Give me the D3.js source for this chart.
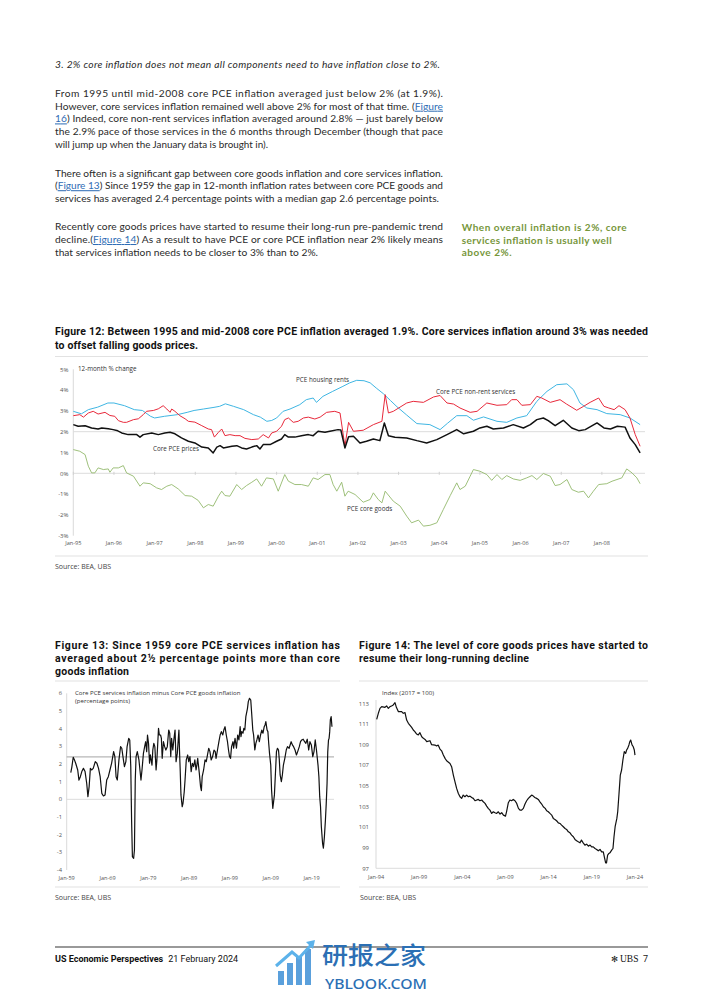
<!DOCTYPE html>
<html><head><meta charset="utf-8">
<script src="https://cdn.jsdelivr.net/npm/d3@7"></script>
<style>body{margin:0;background:#fff}svg{display:block}</style>
</head><body>
<svg id="page" width="702" height="992"></svg>
<script>
// ---------------- DATA ----------------
// Figure 12: 12-month % change, [decimal year, value]
const fig12Rents = [[1995.0,2.98],[1995.2,2.86],[1995.37,3.06],[1995.6,3.18],[1995.85,3.38],[1996.0,3.38],[1996.26,3.25],[1996.5,3.06],[1996.7,3.02],[1996.9,2.74],[1997.0,2.66],[1997.24,2.74],[1997.56,2.82],[1997.8,2.93],[1997.97,3.02],[1998.2,3.09],[1998.46,3.17],[1998.6,3.22],[1998.74,3.34],[1998.94,3.22],[1999.19,3.06],[1999.43,2.82],[1999.6,2.70],[1999.76,2.50],[1999.88,2.54],[2000.0,2.66],[2000.16,2.98],[2000.33,3.09],[2000.57,3.30],[2000.73,3.54],[2000.9,3.62],[2000.98,3.41],[2001.14,3.70],[2001.38,3.94],[2001.63,4.18],[2001.8,4.35],[2001.97,4.47],[2002.15,4.45],[2002.3,4.35],[2002.45,4.1],[2002.63,3.82],[2002.8,3.5],[2002.96,3.2],[2003.2,2.8],[2003.45,2.39],[2003.77,2.34],[2004.02,2.10],[2004.2,2.4],[2004.43,2.77],[2004.68,2.77],[2004.84,2.55],[2005.09,2.71],[2005.42,2.50],[2005.66,2.45],[2005.91,2.66],[2006.15,2.77],[2006.4,3.46],[2006.65,3.94],[2006.89,4.26],[2007.14,4.30],[2007.3,4.02],[2007.46,3.38],[2007.63,3.14],[2007.88,3.06],[2008.12,2.87],[2008.45,2.82],[2008.69,2.66],[2008.94,2.34]];
const fig12NonRent = [[1995.0,2.77],[1995.16,2.82],[1995.25,2.70],[1995.37,2.90],[1995.49,2.98],[1995.61,2.85],[1995.78,2.93],[1995.9,2.78],[1996.02,2.74],[1996.11,2.53],[1996.23,2.45],[1996.31,2.45],[1996.48,2.58],[1996.6,2.62],[1996.72,2.82],[1996.8,2.98],[1996.97,3.02],[1997.09,3.10],[1997.21,3.25],[1997.3,3.09],[1997.38,2.93],[1997.42,3.09],[1997.5,2.98],[1997.62,2.77],[1997.75,2.62],[1997.83,2.50],[1997.99,2.46],[1998.16,2.29],[1998.32,2.13],[1998.4,2.10],[1998.47,1.74],[1998.57,1.97],[1998.65,2.13],[1998.73,1.81],[1998.85,1.86],[1998.98,1.81],[1999.1,1.81],[1999.22,1.68],[1999.39,1.62],[1999.55,1.65],[1999.67,1.86],[1999.8,1.70],[1999.88,1.94],[2000.0,2.02],[2000.12,2.26],[2000.2,2.58],[2000.29,2.66],[2000.41,2.45],[2000.53,2.50],[2000.66,2.66],[2000.78,2.70],[2000.94,2.61],[2001.07,2.70],[2001.23,2.93],[2001.43,2.98],[2001.56,2.90],[2001.68,1.30],[2001.77,2.45],[2001.89,2.02],[2002.13,2.07],[2002.38,2.34],[2002.59,2.50],[2002.67,3.78],[2002.75,2.90],[2002.87,2.98],[2003.2,3.38],[2003.36,3.46],[2003.61,3.41],[2003.86,3.67],[2004.02,3.74],[2004.19,3.38],[2004.35,3.33],[2004.51,3.14],[2004.76,2.93],[2004.93,2.98],[2005.17,3.38],[2005.42,3.27],[2005.66,3.30],[2005.78,3.54],[2005.91,3.54],[2006.03,3.27],[2006.24,3.30],[2006.4,3.70],[2006.52,3.62],[2006.73,3.41],[2006.97,3.54],[2007.13,3.33],[2007.38,3.03],[2007.55,3.22],[2007.71,3.41],[2007.92,3.62],[2008.05,3.22],[2008.17,3.14],[2008.3,3.06],[2008.42,3.25],[2008.57,3.06],[2008.69,2.66],[2008.82,1.86],[2008.94,1.30]];
const fig12Core = [[1995.0,2.34],[1995.12,2.26],[1995.29,2.29],[1995.45,2.18],[1995.61,2.13],[1995.7,2.18],[1995.86,2.14],[1995.98,2.10],[1996.07,2.06],[1996.19,1.94],[1996.35,1.86],[1996.56,1.86],[1996.64,1.74],[1996.72,1.86],[1996.93,1.94],[1997.09,1.86],[1997.25,1.94],[1997.38,1.97],[1997.5,1.90],[1997.66,1.70],[1997.83,1.54],[1997.99,1.46],[1998.16,1.26],[1998.32,1.22],[1998.44,0.98],[1998.53,1.26],[1998.61,1.33],[1998.69,1.22],[1998.9,1.30],[1999.02,1.33],[1999.14,1.22],[1999.26,1.17],[1999.39,1.26],[1999.51,1.33],[1999.59,1.17],[1999.67,1.38],[1999.84,1.38],[2000.0,1.54],[2000.12,1.65],[2000.2,1.86],[2000.29,1.74],[2000.45,1.74],[2000.61,1.81],[2000.78,1.86],[2000.9,1.81],[2001.02,2.02],[2001.19,1.97],[2001.31,2.02],[2001.51,2.10],[2001.58,2.08],[2001.68,1.22],[2001.77,1.76],[2001.89,1.78],[2002.05,1.46],[2002.21,1.54],[2002.38,1.65],[2002.54,1.57],[2002.65,2.42],[2002.75,1.81],[2002.91,1.73],[2003.2,1.70],[2003.45,1.57],[2003.69,1.46],[2003.94,1.62],[2004.19,1.86],[2004.43,2.10],[2004.6,1.90],[2004.84,2.02],[2005.0,2.18],[2005.17,2.26],[2005.33,2.13],[2005.58,2.18],[2005.82,2.34],[2006.07,2.18],[2006.24,2.34],[2006.4,2.58],[2006.56,2.66],[2006.68,2.53],[2006.85,2.29],[2007.05,2.55],[2007.26,2.18],[2007.43,2.05],[2007.59,2.10],[2007.88,2.42],[2008.05,2.18],[2008.21,2.13],[2008.38,2.26],[2008.57,2.22],[2008.69,1.70],[2008.82,1.38],[2008.94,0.98]];
const fig12Goods = [[1995.0,1.14],[1995.16,1.06],[1995.29,0.90],[1995.37,0.34],[1995.45,0.02],[1995.53,0.02],[1995.61,0.26],[1995.74,0.18],[1995.86,0.21],[1995.9,0.05],[1995.98,0.26],[1996.11,0.26],[1996.23,0.37],[1996.31,0.02],[1996.48,-0.14],[1996.64,-0.62],[1996.72,-0.46],[1996.89,-0.50],[1997.05,-0.70],[1997.17,-0.78],[1997.3,-0.62],[1997.42,-0.54],[1997.58,-0.75],[1997.75,-1.07],[1997.91,-1.10],[1998.07,-1.30],[1998.2,-1.66],[1998.32,-1.50],[1998.44,-1.58],[1998.57,-1.10],[1998.65,-0.86],[1998.73,-1.07],[1998.85,-1.10],[1999.02,-0.54],[1999.14,-0.78],[1999.26,-0.59],[1999.39,-0.43],[1999.51,-0.27],[1999.63,-0.62],[1999.75,-0.22],[1999.92,-0.27],[2000.04,-0.86],[2000.2,-0.06],[2000.29,-0.38],[2000.45,-0.54],[2000.61,-0.54],[2000.78,-0.62],[2000.9,-0.22],[2001.02,-0.30],[2001.19,-0.06],[2001.31,-0.06],[2001.39,-0.54],[2001.48,-0.86],[2001.6,-0.43],[2001.68,-1.10],[2001.76,-0.86],[2001.93,-1.02],[2002.13,-1.39],[2002.3,-1.26],[2002.38,-0.94],[2002.5,-1.26],[2002.59,-1.42],[2002.67,-0.86],[2002.87,-1.34],[2003.04,-1.58],[2003.2,-2.06],[2003.32,-2.38],[2003.49,-2.25],[2003.61,-2.54],[2003.77,-2.50],[2003.94,-2.38],[2004.1,-1.74],[2004.27,-1.07],[2004.43,-0.46],[2004.51,-0.78],[2004.64,-0.62],[2004.76,-0.14],[2004.84,0.18],[2005.0,0.10],[2005.17,-0.06],[2005.29,-0.34],[2005.42,-0.06],[2005.54,-0.30],[2005.66,-0.11],[2005.82,-0.27],[2005.99,-0.34],[2006.15,-0.22],[2006.28,-0.11],[2006.4,-0.30],[2006.56,-0.01],[2006.73,-0.14],[2006.85,-0.59],[2006.97,-0.54],[2007.14,-0.30],[2007.26,-0.78],[2007.42,-0.91],[2007.55,-0.86],[2007.67,-1.18],[2007.79,-0.86],[2007.92,-0.54],[2008.12,-0.50],[2008.25,-0.38],[2008.37,-0.30],[2008.49,-0.22],[2008.61,0.21],[2008.74,0.02],[2008.86,-0.22],[2008.94,-0.50]];
const fig12YTicks = [5,4,3,2,1,0,-1,-2,-3];
const fig12XTicks = ["Jan-95","Jan-96","Jan-97","Jan-98","Jan-99","Jan-00","Jan-01","Jan-02","Jan-03","Jan-04","Jan-05","Jan-06","Jan-07","Jan-08"];

// Figure 13: services minus goods inflation (pp)
const fig13Gap = [[1960.0,1.51],[1960.25,1.81],[1960.6,2.38],[1960.85,2.26],[1961.2,2.04],[1961.7,1.66],[1962.0,1.09],[1962.35,1.28],[1962.7,1.57],[1963.1,1.75],[1963.5,1.57],[1963.9,0.91],[1964.2,0.15],[1964.5,0.72],[1964.8,1.75],[1965.1,1.66],[1965.5,1.75],[1966.0,2.13],[1966.4,2.04],[1966.8,1.75],[1967.2,1.28],[1967.6,0.34],[1968.0,0.19],[1968.4,0.25],[1968.8,1.09],[1969.2,1.28],[1969.6,1.66],[1970.0,2.04],[1970.5,2.70],[1970.8,2.42],[1971.1,1.28],[1971.4,1.09],[1971.8,2.23],[1972.2,2.98],[1972.5,2.89],[1972.9,2.23],[1973.15,1.85],[1973.5,2.13],[1973.8,2.98],[1974.2,3.45],[1974.45,3.36],[1974.7,1.85],[1974.9,-1.17],[1975.1,-3.25],[1975.4,-3.34],[1975.6,-2.87],[1975.8,1.09],[1976.0,2.42],[1976.3,2.70],[1976.7,2.23],[1976.95,1.66],[1977.2,1.09],[1977.45,1.66],[1977.8,2.60],[1978.1,2.98],[1978.35,3.26],[1978.6,2.70],[1978.8,3.64],[1979.05,3.17],[1979.3,2.04],[1979.5,2.51],[1979.9,1.94],[1980.1,2.79],[1980.35,3.17],[1980.6,2.98],[1980.9,1.66],[1981.1,2.23],[1981.5,4.02],[1981.7,3.64],[1982.0,3.64],[1982.2,3.45],[1982.4,2.32],[1982.7,3.26],[1983.0,2.98],[1983.3,2.79],[1983.65,2.98],[1984.0,3.92],[1984.25,3.74],[1984.5,2.42],[1984.7,3.45],[1985.0,2.79],[1985.3,3.45],[1985.55,3.92],[1985.8,2.13],[1986.1,2.60],[1986.5,3.92],[1986.65,2.70],[1986.8,1.75],[1987.0,0.25],[1987.3,-0.42],[1987.5,-0.23],[1987.8,0.43],[1988.0,1.09],[1988.3,2.23],[1988.65,2.51],[1988.9,2.13],[1989.2,2.42],[1989.5,1.57],[1989.8,2.04],[1990.1,1.85],[1990.4,2.23],[1990.7,1.66],[1990.9,1.94],[1991.1,2.32],[1991.5,1.47],[1991.8,0.72],[1992.0,0.49],[1992.2,1.28],[1992.55,1.66],[1992.9,2.23],[1993.2,2.13],[1993.5,2.51],[1993.8,2.89],[1994.1,2.70],[1994.4,2.23],[1994.75,2.42],[1995.1,2.79],[1995.4,2.70],[1995.6,2.32],[1995.95,2.79],[1996.3,3.26],[1996.6,3.64],[1996.9,3.83],[1997.25,3.64],[1997.5,3.92],[1997.8,4.11],[1998.1,3.64],[1998.4,3.26],[1998.65,2.79],[1998.9,2.42],[1999.15,2.32],[1999.4,2.98],[1999.75,3.26],[1999.9,2.89],[2000.25,3.45],[2000.6,2.89],[2000.9,3.64],[2001.2,3.36],[2001.5,4.11],[2001.7,3.55],[2001.9,3.83],[2002.2,3.74],[2002.4,4.02],[2002.65,3.92],[2002.9,4.68],[2003.3,5.15],[2003.5,5.53],[2003.8,5.72],[2004.1,5.62],[2004.3,4.96],[2004.6,3.92],[2004.8,3.64],[2005.1,2.79],[2005.35,3.17],[2005.6,3.36],[2005.9,3.64],[2006.2,3.26],[2006.5,3.64],[2006.8,3.92],[2007.1,3.74],[2007.4,4.11],[2007.6,4.21],[2007.8,4.40],[2008.1,3.92],[2008.3,3.83],[2008.5,3.17],[2008.7,2.60],[2009.0,1.94],[2009.2,0.53],[2009.5,-0.51],[2009.7,-0.13],[2009.9,0.25],[2010.15,1.47],[2010.4,2.70],[2010.65,2.89],[2010.9,2.79],[2011.1,2.23],[2011.3,1.38],[2011.6,1.00],[2011.85,1.38],[2012.1,1.94],[2012.45,2.32],[2012.8,2.79],[2013.1,2.98],[2013.5,2.89],[2014.0,3.26],[2014.3,3.08],[2014.6,2.98],[2014.95,2.79],[2015.3,2.51],[2015.6,2.70],[2016.0,2.98],[2016.3,3.26],[2016.6,3.36],[2016.95,3.40],[2017.3,3.26],[2017.6,3.17],[2017.95,3.40],[2018.3,2.79],[2018.6,3.26],[2018.95,3.08],[2019.3,2.42],[2019.6,2.70],[2019.9,3.36],[2020.2,2.79],[2020.45,2.23],[2020.6,1.89],[2020.8,1.28],[2021.0,0.15],[2021.2,-0.42],[2021.4,-1.55],[2021.7,-2.49],[2021.9,-2.77],[2022.15,-2.11],[2022.4,-1.17],[2022.6,-0.23],[2022.8,0.91],[2022.97,2.70],[2023.15,3.36],[2023.3,3.45],[2023.45,3.83],[2023.6,4.49],[2023.8,4.68],[2024.0,4.11]];
const fig13Average = 2.4;
const fig13YTicks = [6,5,4,3,2,1,0,-1,-2,-3,-4];
const fig13XTicks = ["Jan-59","Jan-69","Jan-79","Jan-89","Jan-99","Jan-09","Jan-19"];

// Figure 14: core goods price level, index 2017=100
const fig14Index = [[1994.08,111.45],[1994.27,112.03],[1994.46,112.51],[1994.66,112.68],[1995.04,112.61],[1995.24,112.74],[1995.43,112.51],[1995.62,112.68],[1995.8,112.74],[1996.0,112.84],[1996.2,113.06],[1996.36,112.61],[1996.6,112.19],[1996.97,112.19],[1997.16,112.03],[1997.36,112.1],[1997.55,111.38],[1997.75,111.06],[1998.13,110.67],[1998.32,110.41],[1998.5,110.25],[1998.71,110.02],[1998.9,109.93],[1999.09,110.15],[1999.3,109.76],[1999.49,109.6],[1999.68,109.5],[1999.88,109.28],[2000.25,109.37],[2000.44,108.99],[2000.83,108.95],[2001.02,108.86],[2001.2,108.95],[2001.41,108.56],[2001.6,108.39],[2001.8,107.98],[2002.0,107.66],[2002.18,107.43],[2002.57,107.17],[2002.76,106.85],[2002.96,106.04],[2003.15,105.39],[2003.34,104.75],[2003.54,104.26],[2003.73,103.94],[2003.92,103.78],[2004.1,104.1],[2004.3,103.94],[2004.5,104.1],[2004.7,103.94],[2004.89,104.0],[2005.08,103.87],[2005.27,103.78],[2005.47,103.55],[2005.85,103.68],[2006.04,103.55],[2006.24,103.62],[2006.43,103.45],[2006.63,103.29],[2006.82,103.03],[2007.0,102.81],[2007.2,102.64],[2007.4,102.32],[2007.59,102.48],[2007.78,102.39],[2007.98,102.32],[2008.17,102.48],[2008.37,102.26],[2008.56,102.39],[2008.76,102.16],[2009.0,102.06],[2009.12,102.48],[2009.33,103.36],[2009.51,103.62],[2009.7,103.55],[2009.9,103.68],[2010.1,103.55],[2010.3,103.29],[2010.5,102.81],[2010.68,102.64],[2010.87,102.64],[2011.07,102.81],[2011.26,103.23],[2011.45,103.55],[2011.65,103.78],[2011.84,103.94],[2012.03,104.1],[2012.22,104.0],[2012.4,103.87],[2012.61,103.78],[2012.8,103.68],[2012.99,103.45],[2013.19,103.23],[2013.38,102.97],[2013.6,102.81],[2013.77,102.58],[2013.96,102.48],[2014.15,102.32],[2014.35,102.16],[2014.54,101.84],[2014.73,101.74],[2014.92,101.61],[2015.12,101.41],[2015.31,101.35],[2015.5,101.19],[2015.7,101.03],[2015.9,100.86],[2016.08,100.77],[2016.28,100.54],[2016.47,100.44],[2016.66,100.22],[2016.86,100.06],[2017.05,99.8],[2017.24,99.67],[2017.43,99.57],[2017.63,99.47],[2017.8,99.73],[2018.0,99.47],[2018.2,99.25],[2018.4,99.34],[2018.6,99.15],[2018.8,99.25],[2018.98,99.08],[2019.17,99.08],[2019.37,98.92],[2019.56,98.83],[2019.75,98.7],[2019.95,98.83],[2020.14,98.6],[2020.33,98.6],[2020.45,98.11],[2020.6,97.53],[2020.7,97.53],[2020.83,98.28],[2020.98,98.44],[2021.1,98.5],[2021.3,98.76],[2021.45,98.92],[2021.57,100.06],[2021.7,101.03],[2021.9,101.84],[2022.0,102.48],[2022.15,104.26],[2022.3,106.04],[2022.45,106.53],[2022.6,107.5],[2022.76,108.31],[2022.92,108.15],[2023.03,108.47],[2023.15,108.63],[2023.3,108.96],[2023.4,109.28],[2023.5,109.44],[2023.66,108.96],[2023.8,108.79],[2023.92,108.47],[2024.0,107.98]];
const fig14YTicks = [113,111,109,107,105,103,101,99,97];
const fig14XTicks = ["Jan-94","Jan-99","Jan-04","Jan-09","Jan-14","Jan-19","Jan-24"];

// ---------------- PAGE ----------------
const svg = d3.select('#page');
const BODY = "Lato, 'Open Sans', sans-serif";
const TITLE = "Roboto, 'Liberation Sans', sans-serif";
const SMALL = "'Open Sans', Lato, sans-serif";

function addLine(g, segs, x, y, width, opts) {
  const t = g.append('text').attr('x', x).attr('y', y)
    .attr('font-family', opts.font || BODY).attr('font-size', opts.size || 10)
    .attr('font-weight', opts.weight || 400).attr('font-style', opts.italic ? 'italic' : 'normal')
    .attr('fill', opts.color || '#2a2a2a');
  segs.forEach(([s, link]) => {
    const ts = t.append('tspan').text(s);
    if (link) ts.attr('fill', '#2f6db5').attr('text-decoration', 'underline');
  });
  if (width) {
    const w = t.node().getComputedTextLength();
    t.attr('textLength', width).attr('lengthAdjust', w > width ? 'spacingAndGlyphs' : 'spacing');
  }
  return t;
}

const bodyLines = [
  [[["3. 2% core inflation does not mean all components need to have inflation close to 2%.",0]], 68, 385, true],
  [[["From 1995 until mid-2008 core PCE inflation averaged just below 2% (at 1.9%).",0]], 97, 388],
  [[["However, core services inflation remained well above 2% for most of that time. (",0],["Figure",1]], 109.7, 388],
  [[["16",1],[") Indeed, core non-rent services inflation averaged around 2.8% \u2014 just barely below",0]], 122.4, 388],
  [[["the 2.9% pace of those services in the 6 months through December (though that pace",0]], 135.1, 388],
  [[["will jump up when the January data is brought in).",0]], 147.8, 213],
  [[["There often is a significant gap between core goods inflation and core services inflation.",0]], 176.5, 388],
  [[["(",0],["Figure 13",1],[") Since 1959 the gap in 12-month inflation rates between core PCE goods and",0]], 189.2, 388],
  [[["services has averaged 2.4 percentage points with a median gap 2.6 percentage points.",0]], 201.8, 384],
  [[["Recently core goods prices have started to resume their long-run pre-pandemic trend",0]], 230, 388],
  [[["decline.(",0],["Figure 14",1],[") As a result to have PCE or core PCE inflation near 2% likely means",0]], 243, 388],
  [[["that services inflation needs to be closer to 3% than to 2%.",0]], 255.8, 263]
];
const textG = svg.append('g');
bodyLines.forEach(([segs, y, w, it]) => addLine(textG, segs, 55, y, w, {italic: it, size: 10.2}));

const sideLines = [["When overall inflation is 2%, core", 230.5, 165], ["services inflation is usually well", 243.5, 150], ["above 2%.", 256, 50]];
sideLines.forEach(([s, y, w]) => addLine(textG, [[s,0]], 461.7, y, w, {weight: 700, color: '#76963a', size: 10}));

// Titles
const titleOpts = {font: TITLE, weight: 700, size: 10.5, color: '#111'};
addLine(textG, [["Figure 12: Between 1995 and mid-2008 core PCE inflation averaged 1.9%. Core services inflation around 3% was needed",0]], 55, 334.5, 593, titleOpts);
addLine(textG, [["to offset falling goods prices.",0]], 55, 349, 143, titleOpts);
addLine(textG, [["Figure 13: Since 1959 core PCE services inflation has",0]], 55, 648.5, 285, titleOpts);
addLine(textG, [["averaged about 2\u00bd percentage points more than core",0]], 55, 661.5, 285, titleOpts);
addLine(textG, [["goods inflation",0]], 55, 674.5, 74, titleOpts);
addLine(textG, [["Figure 14: The level of core goods prices have started to",0]], 359, 648.5, 289, titleOpts);
addLine(textG, [["resume their long-running decline",0]], 359, 661.5, 170, titleOpts);

// rules
const rules = [[55,648,356.5],[55,648,556],[55,340,681],[359,648,681],[55,340,887],[359,648,887]];
svg.append('g').selectAll('line').data(rules).join('line')
  .attr('x1', d => d[0]).attr('x2', d => d[1]).attr('y1', d => d[2]).attr('y2', d => d[2])
  .attr('stroke', '#e2e2e2').attr('stroke-width', 1.2);

// sources
[[55,569],[55,899.5],[360,899.5]].forEach(([x,y]) =>
  svg.append('text').attr('x', x).attr('y', y).attr('font-family', SMALL).attr('font-size', 7)
    .attr('fill', '#444').text('Source: BEA, UBS'));

// ---------------- FIGURE 12 ----------------
{
  const g = svg.append('g');
  const x = d3.scaleLinear().domain([1995, 2009.06]).range([73.3, 645]);
  const y = d3.scaleLinear().domain([-3, 5]).range([535.7, 369.3]);
  g.append('line').attr('x1', 73.3).attr('x2', 73.3).attr('y1', y(5)).attr('y2', y(-3)).attr('stroke', '#cfcfcf').attr('stroke-width', 0.8);
  [2, 0].forEach(v => g.append('line').attr('x1', 73.3).attr('x2', 645).attr('y1', y(v)).attr('y2', y(v)).attr('stroke', '#dcdcdc').attr('stroke-width', 1));
  g.append('g').selectAll('text').data(fig12YTicks).join('text')
    .attr('x', 68.5).attr('y', d => y(d) + 2.2).attr('text-anchor', 'end')
    .attr('font-family', SMALL).attr('font-size', 6).attr('fill', '#555').text(d => d + '%');
  g.append('g').selectAll('line').data(fig12XTicks).join('line')
    .attr('x1', (d, i) => x(1995 + i)).attr('x2', (d, i) => x(1995 + i))
    .attr('y1', y(0) - 1.5).attr('y2', y(0) + 1.5).attr('stroke', '#d0d0d0');
  g.append('g').selectAll('text').data(fig12XTicks).join('text')
    .attr('x', (d, i) => x(1995 + i)).attr('y', 544.5).attr('text-anchor', 'middle')
    .attr('font-family', SMALL).attr('font-size', 5.6).attr('fill', '#555').text(d => d);
  const line = d3.line().x(d => x(d[0])).y(d => y(d[1]));
  [[fig12Goods, '#93b96c', 0.9], [fig12Rents, '#3fb6e3', 1.0], [fig12NonRent, '#e8293b', 1.0], [fig12Core, '#111', 1.5]]
    .forEach(([data, c, w]) => g.append('path').datum(data).attr('d', line).attr('fill', 'none')
      .attr('stroke', c).attr('stroke-width', w).attr('stroke-linejoin', 'round'));
  const lab = (t, xx, yy) => g.append('text').attr('x', xx).attr('y', yy).attr('font-family', SMALL)
    .attr('font-size', 6.3).attr('fill', '#333').text(t);
  lab('12-month % change', 78, 370.5);
  lab('PCE housing rents', 296, 382);
  lab('Core PCE non-rent services', 436, 393.5);
  lab('Core PCE prices', 153, 451);
  lab('PCE core goods', 347, 510.5);
}

// ---------------- FIGURE 13 ----------------
{
  const g = svg.append('g');
  const x = d3.scaleLinear().domain([1959, 2024.5]).range([66.7, 334]);
  const y = d3.scaleLinear().domain([-4, 6]).range([870, 693.3]);
  g.append('line').attr('x1', 66.7).attr('x2', 66.7).attr('y1', y(6)).attr('y2', y(-4)).attr('stroke', '#cfcfcf').attr('stroke-width', 0.8);
  g.append('line').attr('x1', 66.7).attr('x2', 334).attr('y1', y(0)).attr('y2', y(0)).attr('stroke', '#dcdcdc');
  g.append('line').attr('x1', 66.7).attr('x2', 334).attr('y1', y(fig13Average)).attr('y2', y(fig13Average)).attr('stroke', '#9a9a9a').attr('stroke-width', 0.9);
  g.append('g').selectAll('text').data(fig13YTicks).join('text')
    .attr('x', 62).attr('y', d => y(d) + 2).attr('text-anchor', 'end')
    .attr('font-family', SMALL).attr('font-size', 5.8).attr('fill', '#555').text(d => d);
  g.append('g').selectAll('text').data(fig13XTicks).join('text')
    .attr('x', (d, i) => x(1959 + 10 * i)).attr('y', 879.5).attr('text-anchor', 'middle')
    .attr('font-family', SMALL).attr('font-size', 5.6).attr('fill', '#555').text(d => d);
  const line = d3.line().x(d => x(d[0])).y(d => y(d[1]));
  g.append('path').datum(fig13Gap).attr('d', line).attr('fill', 'none').attr('stroke', '#111').attr('stroke-width', 1.2).attr('stroke-linejoin', 'round');
  g.append('text').attr('x', 75).attr('y', 695).attr('font-family', SMALL).attr('font-size', 6.1).attr('fill', '#333')
    .text('Core PCE services inflation minus Core PCE goods inflation');
  g.append('text').attr('x', 75).attr('y', 702.5).attr('font-family', SMALL).attr('font-size', 6.1).attr('fill', '#333')
    .text('(percentage points)');
}

// ---------------- FIGURE 14 ----------------
{
  const g = svg.append('g');
  const x = d3.scaleLinear().domain([1994, 2024.5]).range([376, 639.3]);
  const y = d3.scaleLinear().domain([97, 113]).range([868.3, 703.3]);
  g.append('line').attr('x1', 376).attr('x2', 376).attr('y1', 700).attr('y2', y(97)).attr('stroke', '#cfcfcf').attr('stroke-width', 0.8);
  g.append('line').attr('x1', 376).attr('x2', 640).attr('y1', y(97)).attr('y2', y(97)).attr('stroke', '#dcdcdc');
  g.append('g').selectAll('text').data(fig14YTicks).join('text')
    .attr('x', 369).attr('y', d => y(d) + 2.2).attr('text-anchor', 'end')
    .attr('font-family', SMALL).attr('font-size', 6).attr('fill', '#555').text(d => d);
  g.append('g').selectAll('text').data(fig14XTicks).join('text')
    .attr('x', (d, i) => x(1994 + 5 * i)).attr('y', 879).attr('text-anchor', 'middle')
    .attr('font-family', SMALL).attr('font-size', 5.6).attr('fill', '#555').text(d => d);
  const line = d3.line().x(d => x(d[0])).y(d => y(d[1]));
  g.append('path').datum(fig14Index).attr('d', line).attr('fill', 'none').attr('stroke', '#111').attr('stroke-width', 1.2).attr('stroke-linejoin', 'round');
  g.append('text').attr('x', 382).attr('y', 695).attr('font-family', SMALL).attr('font-size', 6.1).attr('fill', '#333')
    .text('Index (2017 = 100)');
}

// ---------------- FOOTER ----------------
svg.append('line').attr('x1', 55).attr('x2', 648).attr('y1', 947).attr('y2', 947).attr('stroke', '#777').attr('stroke-width', 1.3);
const ft = svg.append('text').attr('x', 55).attr('y', 962).attr('font-family', TITLE).attr('font-size', 9).attr('fill', '#111');
ft.append('tspan').attr('font-weight', 700).text('US Economic Perspectives');
ft.append('tspan').attr('dx', 5).attr('font-weight', 400).text('21 February 2024');
svg.append('text').attr('x', 611).attr('y', 962).attr('font-family', 'DejaVu Sans').attr('font-size', 8.5).attr('fill', '#222').text('\u273B');
svg.append('text').attr('x', 620).attr('y', 962).attr('font-family', "'Liberation Serif', serif").attr('font-size', 9.5).attr('fill', '#111').text('UBS');
svg.append('text').attr('x', 643).attr('y', 962).attr('font-family', TITLE).attr('font-size', 9).attr('fill', '#222').text('7');

// watermark
{
  const g = svg.append('g');
  const blue = '#3d8fd6';
  const bars = [[278, 971, 6], [287, 963, 6], [296, 956, 6], [305, 949, 6]];
  bars.forEach(([bx, by, bw]) => g.append('rect').attr('x', bx).attr('y', by).attr('width', bw).attr('height', 985 - by).attr('fill', blue).attr('opacity', 0.85));
  g.append('path').attr('d', 'M276,966 L292,952 L299,958 L312,944').attr('fill', 'none').attr('stroke', '#5cb2ea').attr('stroke-width', 3);
  g.append('path').attr('d', 'M306,942 L315,940 L313,949 Z').attr('fill', '#5cb2ea');
  g.append('text').attr('x', 322).attr('y', 964).attr('font-family', "'Noto Sans CJK SC'").attr('font-weight', 500)
    .attr('font-size', 24).attr('fill', '#2b6fb4').attr('textLength', 104).attr('lengthAdjust', 'spacingAndGlyphs').text('研报之家');
  g.append('text').attr('x', 325).attr('y', 988.5).attr('font-family', "'Noto Sans', sans-serif").attr('font-weight', 500)
    .attr('font-size', 13.5).attr('fill', '#2b6fb4').attr('textLength', 102).attr('lengthAdjust', 'spacingAndGlyphs').text('YBLOOK.COM');
}
</script>
</body></html>
